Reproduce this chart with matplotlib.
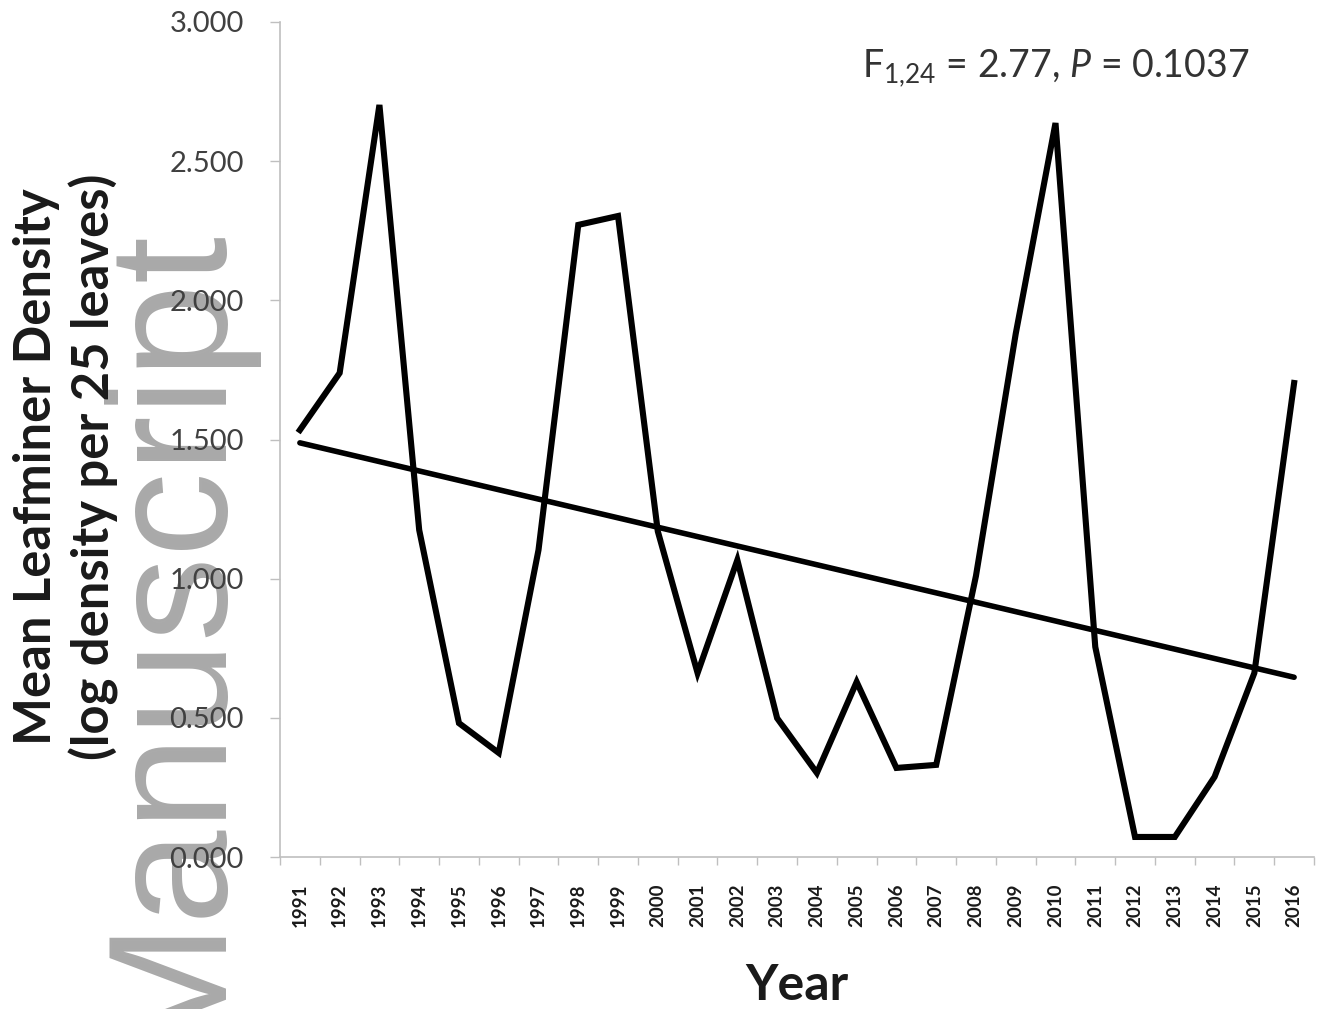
import numpy as np
import matplotlib
matplotlib.use("Agg")
import matplotlib.pyplot as plt
from matplotlib.ticker import FixedLocator, FuncFormatter

# Annual mean leafminer density (log density per 25 leaves)
years = list(range(1991, 2017))
density = [1.534, 1.739, 2.702, 1.175, 0.481, 0.374, 1.103, 2.271, 2.303, 1.170,
           0.661, 1.067, 0.499, 0.302, 0.629, 0.320, 0.331, 1.010, 1.880, 2.637,
           0.755, 0.072, 0.072, 0.288, 0.661, 1.703]
y_ticks = [0.0, 0.5, 1.0, 1.5, 2.0, 2.5, 3.0]
stat_text = r"F$_{1{,}24}$ = 2.77, $\it{P}$ = 0.1037"

plt.rcParams["font.family"] = ["Lato", "DejaVu Sans"]
plt.rcParams["mathtext.fontset"] = "custom"
plt.rcParams["mathtext.rm"] = "Lato"
plt.rcParams["mathtext.it"] = "Lato:italic"

W, H = 1330, 1009
fig = plt.figure(figsize=(W / 100, H / 100), dpi=100)
ax = fig.add_axes([280 / W, 1 - 857 / H, (1314 - 280) / W, (857 - 22) / H])
ax.set_facecolor("none")

x = np.arange(len(years))
ax.plot(x, density, color="black", lw=4.4, solid_joinstyle="miter", zorder=3)

# Linear trend over the series
slope, intercept = np.polyfit(x, density, 1)
ax.plot(x, slope * x + intercept, color="black", lw=4.0, solid_capstyle="round", zorder=3)

ax.set_xlim(-0.5, len(years) - 0.5)
ax.set_ylim(0, 3.0)

axis_gray = "#bfbfbf"
for side in ("top", "right"):
    ax.spines[side].set_visible(False)
for side in ("left", "bottom"):
    ax.spines[side].set_color(axis_gray)
    ax.spines[side].set_linewidth(1.2)

ax.set_yticks(y_ticks)
ax.yaxis.set_major_formatter(FuncFormatter(lambda v, p: f"{v:.3f}"))
ax.tick_params(axis="y", direction="out", length=7, width=1, color=axis_gray,
               labelsize=21, labelcolor="#404040", pad=19)

# Category axis: tick marks between years, labels centred on each year
ax.xaxis.set_major_locator(FixedLocator(np.arange(-0.5, len(years), 1.0)))
ax.xaxis.set_major_formatter(FuncFormatter(lambda v, p: ""))
ax.xaxis.set_minor_locator(FixedLocator(x))
ax.set_xticklabels([str(y) for y in years], minor=True)
ax.tick_params(axis="x", which="major", direction="out", length=6, width=1, color=axis_gray)
ax.tick_params(axis="x", which="minor", length=0, pad=19, labelsize=13.5,
               labelrotation=90, labelcolor="#1a1a1a")
for lbl in ax.get_xticklabels(minor=True):
    lbl.set_fontweight("bold")

fig.text(797 / W, 1 - 1000 / H, "Year", ha="center", va="baseline",
         fontsize=36, fontweight="bold", color="#1a1a1a")
fig.text(66 / W, 1 - 467 / H, "Mean Leafminer Density\n(log density per 25 leaves)",
         rotation=90, ha="center", va="center", multialignment="center",
         fontsize=36.5, fontweight="bold", color="#1a1a1a", linespacing=1.2)

fig.text(862 / W, 1 - 77 / H, stat_text, ha="left", va="baseline",
         fontsize=27, color="#333333")

# Journal watermark
fig.text(213 / W, 1 - 1051 / H, "Manuscript", rotation=90, rotation_mode="anchor",
         ha="left", va="baseline", fontsize=122, family="Liberation Sans",
         color="#a9a9a9", zorder=-5)

fig.savefig("out.png", dpi=100, facecolor="white")
